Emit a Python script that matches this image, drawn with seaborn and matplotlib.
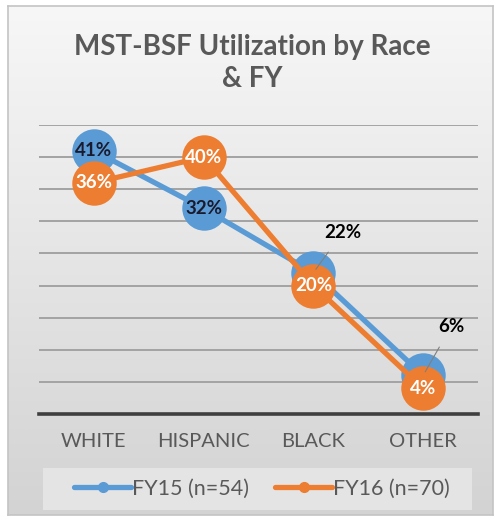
import numpy as np
import pandas as pd
import matplotlib
matplotlib.use("Agg")
import matplotlib.pyplot as plt
from matplotlib.lines import Line2D
from matplotlib.patches import Rectangle
import seaborn as sns

# data
races = ["WHITE", "HISPANIC", "BLACK", "OTHER"]
fy15 = [41, 32, 22, 6]
fy16 = [36, 40, 20, 4]
series_names = ["FY15 (n=54)", "FY16 (n=70)"]
title = "MST-BSF Utilization by Race\n& FY"

blue = "#5B9BD5"
orange = "#ED7D31"

df = pd.DataFrame({
    "race": races * 2,
    "pct": fy15 + fy16,
    "fy": [series_names[0]] * 4 + [series_names[1]] * 4,
})

sns.set_theme(style="white")
plt.rcParams["font.family"] = ["Lato", "DejaVu Sans"]

fig = plt.figure(figsize=(5.01, 5.21), dpi=100)
fig.patch.set_facecolor("white")

# chart-area background with soft vertical gradient
bg = fig.add_axes([8/501, 6/521, 485/501, 509/521], zorder=0)
grad = np.linspace(0, 1, 256).reshape(-1, 1)
bg.imshow(grad, aspect="auto", cmap=matplotlib.colors.LinearSegmentedColormap.from_list(
    "bgg", ["#f7f7f7", "#d3d3d3"]), extent=[0, 1, 0, 1], origin="upper")
bg.set_xticks([]); bg.set_yticks([])
for s in bg.spines.values():
    s.set_color("#c4c4c4")
    s.set_linewidth(1.2)

# legend panel
fig.patches.append(Rectangle((43/501, 11/521), 429/501, 42/521,
                             transform=fig.transFigure, facecolor="#e4e4e4",
                             edgecolor="none", zorder=0.5))

ax = fig.add_axes([39/501, 107/521, 439/501, 289/521], zorder=1)
ax.patch.set_alpha(0)

sns.lineplot(data=df, x="race", y="pct", hue="fy", palette=[blue, orange],
             marker="o", markersize=32, markeredgewidth=0, linewidth=3.8,
             legend=False, ax=ax, zorder=3)
for ln in ax.lines:
    ln.set_clip_on(False)

ax.set_xlim(-0.5, 3.5)
ax.set_ylim(0, 45)
ax.set_yticks(np.arange(5, 50, 5))
ax.yaxis.grid(True, color="#a3a3a3", linewidth=1.4)
ax.set_axisbelow(True)
ax.tick_params(axis="y", left=False, labelleft=False)
ax.tick_params(axis="x", bottom=False, labelsize=14.5, labelcolor="#595959", pad=8)
for k in ["top", "right", "left"]:
    ax.spines[k].set_visible(False)
ax.spines["bottom"].set_color("#3f3f3f")
ax.spines["bottom"].set_linewidth(2.6)
ax.set_xlabel("")
ax.set_ylabel("")

# data labels: (dx, dy in points, colour, leader)
styles15 = [(0, 0, "#1a1a2e", False), (0, 0, "#1a1a2e", False),
            (21, 29, "black", True), (20, 35, "black", True)]
styles16 = [(0, 0, "white", False)] * 4
for vals, styles in [(fy15, styles15), (fy16, styles16)]:
    for i, (v, st) in enumerate(zip(vals, styles)):
        dx, dy, col, leader = st
        ax.annotate(f"{v}%", (i, v), xytext=(dx, dy), textcoords="offset points",
                    ha="center", va="center", fontsize=13.5, fontweight="bold",
                    color=col, zorder=5,
                    arrowprops=dict(arrowstyle="-", color="#7f7f7f", lw=0.8,
                                    shrinkA=7, shrinkB=3) if leader else None)

fig.text(252/501, 1 - 63/521, title, ha="center", va="center", fontsize=20,
         fontweight="bold", color="#595959", linespacing=1.25)

handles = [Line2D([], [], color=c, linewidth=3.8, marker="o", markersize=7)
           for c in [blue, orange]]
leg = fig.legend(handles, series_names, loc="center",
                 bbox_to_anchor=(262/501, 1 - 489/521), ncol=2, fontsize=15.5,
                 frameon=False, handlelength=2.65, handletextpad=0.05,
                 columnspacing=1.2, borderpad=0.3, borderaxespad=0)
for t in leg.get_texts():
    t.set_color("#595959")

fig.savefig("out.png", dpi=100)
